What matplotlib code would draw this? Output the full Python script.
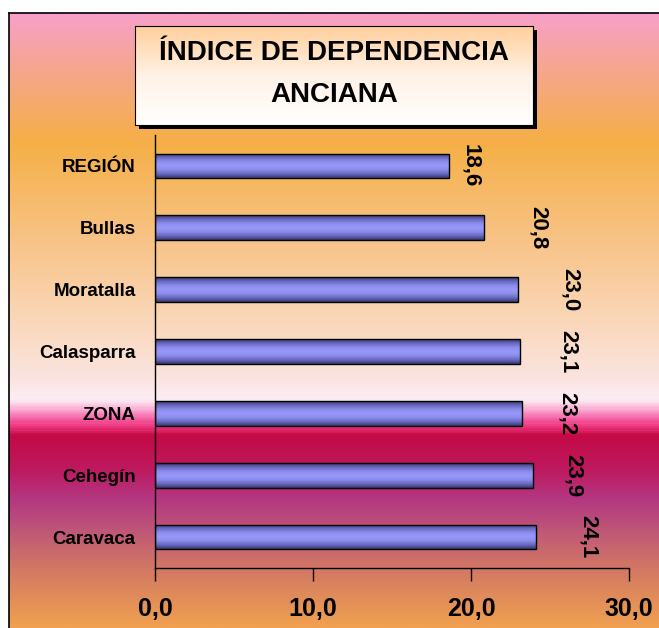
import numpy as np
import matplotlib
matplotlib.use("Agg")
import matplotlib.pyplot as plt
from matplotlib.colors import LinearSegmentedColormap
from matplotlib.patches import Rectangle
from matplotlib.ticker import FuncFormatter

# datos
categorias = ["REGIÓN", "Bullas", "Moratalla", "Calasparra", "ZONA", "Cehegín", "Caravaca"]
valores = [18.6, 20.8, 23.0, 23.1, 23.2, 23.9, 24.1]
ticks_x = [0, 10, 20, 30]
titulo = "ÍNDICE DE DEPENDENCIA\nANCIANA"

# desplazamiento de las etiquetas de datos (posicion, no dato)
desplaz_etiquetas = [1.35, 3.45, 3.25, 3.05, 2.9, 2.55, 3.3]

W, H = 659, 628
plt.rcParams['font.family'] = ['Liberation Sans', 'DejaVu Sans']
fig = plt.figure(figsize=(W / 100, H / 100), dpi=100)
fig.patch.set_facecolor("white")

# fondo degradado
fondo = [
    (13, (248, 160, 200)),
    (60, (246, 165, 150)),
    (142, (245, 175, 70)),
    (240, (248, 195, 135)),
    (320, (250, 215, 185)),
    (380, (251, 228, 225)),
    (400, (252, 238, 245)),
    (410, (250, 170, 210)),
    (420, (245, 90, 160)),
    (428, (235, 50, 120)),
    (436, (195, 10, 70)),
    (470, (190, 25, 95)),
    (500, (180, 55, 130)),
    (530, (190, 85, 120)),
    (570, (210, 120, 100)),
    (628, (240, 160, 80)),
]
top, left = 13, 9
cm_fondo = LinearSegmentedColormap.from_list(
    "fondo", [((y - top) / (H - top), tuple(c / 255 for c in col)) for y, col in fondo])
ax_bg = fig.add_axes([left / W, 0, (W - left) / W, (H - top) / H])
ax_bg.imshow(np.linspace(0, 1, 600).reshape(-1, 1), cmap=cm_fondo, aspect="auto",
             extent=[0, 1, 0, 1], interpolation="bilinear")
ax_bg.set_xticks([])
ax_bg.set_yticks([])
for s in ["right", "bottom"]:
    ax_bg.spines[s].set_visible(False)
for s in ["left", "top"]:
    ax_bg.spines[s].set_linewidth(1.2)

# caja del titulo con sombra
bx0, by0, bx1, by1 = 135, 26, 533, 125
fig.patches.append(Rectangle(((bx0 + 4) / W, 1 - (by1 + 4) / H), (bx1 - bx0) / W, (by1 - by0) / H,
                             transform=fig.transFigure, facecolor="black", edgecolor="none", zorder=1))
ax_t = fig.add_axes([bx0 / W, 1 - by1 / H, (bx1 - bx0) / W, (by1 - by0) / H], zorder=2)
cm_titulo = LinearSegmentedColormap.from_list("titulo", ["#FFFFFF", "#FFF2E6", "#FFCF9C"])
ax_t.imshow(np.linspace(0, 1, 200).reshape(-1, 1), cmap=cm_titulo, aspect="auto",
            extent=[0, 1, 0, 1], origin="lower")
ax_t.set_xticks([])
ax_t.set_yticks([])
for s in ax_t.spines.values():
    s.set_linewidth(0.8)
ax_t.text(0.5, 0.52, titulo, ha="center", va="center", fontsize=20, fontweight="bold",
          linespacing=1.8, transform=ax_t.transAxes)

# grafico de barras
ax = fig.add_axes([155 / W, 1 - 568 / H, (629 - 155) / W, (568 - 135) / H], zorder=3)
ax.patch.set_alpha(0)
pos = np.arange(len(categorias))
barras = ax.barh(pos, valores, height=0.4, color="#8888EE", edgecolor="black", linewidth=1.0)

cm_barra = LinearSegmentedColormap.from_list(
    "barra", ["#3A3A74", "#6A6AC0", "#8C8CEC", "#9898FA", "#8C8CEC", "#6A6AC0", "#3A3A74"])
grad = np.linspace(0, 1, 50).reshape(-1, 1)
for b in barras:
    x0, y0, w, h = b.get_x(), b.get_y(), b.get_width(), b.get_height()
    im = ax.imshow(grad, cmap=cm_barra, aspect="auto", extent=[x0, x0 + w, y0 + h, y0],
                   interpolation="bilinear", zorder=2)
    im.set_clip_path(b)
    b.set_zorder(3)
    b.set_facecolor("none")
ax.set_xlim(0, 30)
ax.set_ylim(len(categorias) - 0.5, -0.5)

for p, v, d in zip(pos, valores, desplaz_etiquetas):
    ax.text(v + d, p, f"{v:.1f}".replace(".", ","), rotation=-90, ha="center", va="center",
            fontsize=16, fontweight="bold")

ax.set_yticks(pos)
ax.set_yticklabels(categorias, fontsize=13.5, fontweight="bold")
ax.tick_params(axis="y", length=0, pad=14)
ax.set_xticks(ticks_x)
ax.xaxis.set_major_formatter(FuncFormatter(lambda v, _: f"{v:.1f}".replace(".", ",")))
ax.tick_params(axis="x", length=9, width=1, direction="out", pad=12, labelsize=18)
for lab in ax.get_xticklabels():
    lab.set_fontweight("bold")
for s in ["top", "right"]:
    ax.spines[s].set_visible(False)
for s in ["left", "bottom"]:
    ax.spines[s].set_linewidth(1.0)

fig.savefig("out.png", dpi=100)
